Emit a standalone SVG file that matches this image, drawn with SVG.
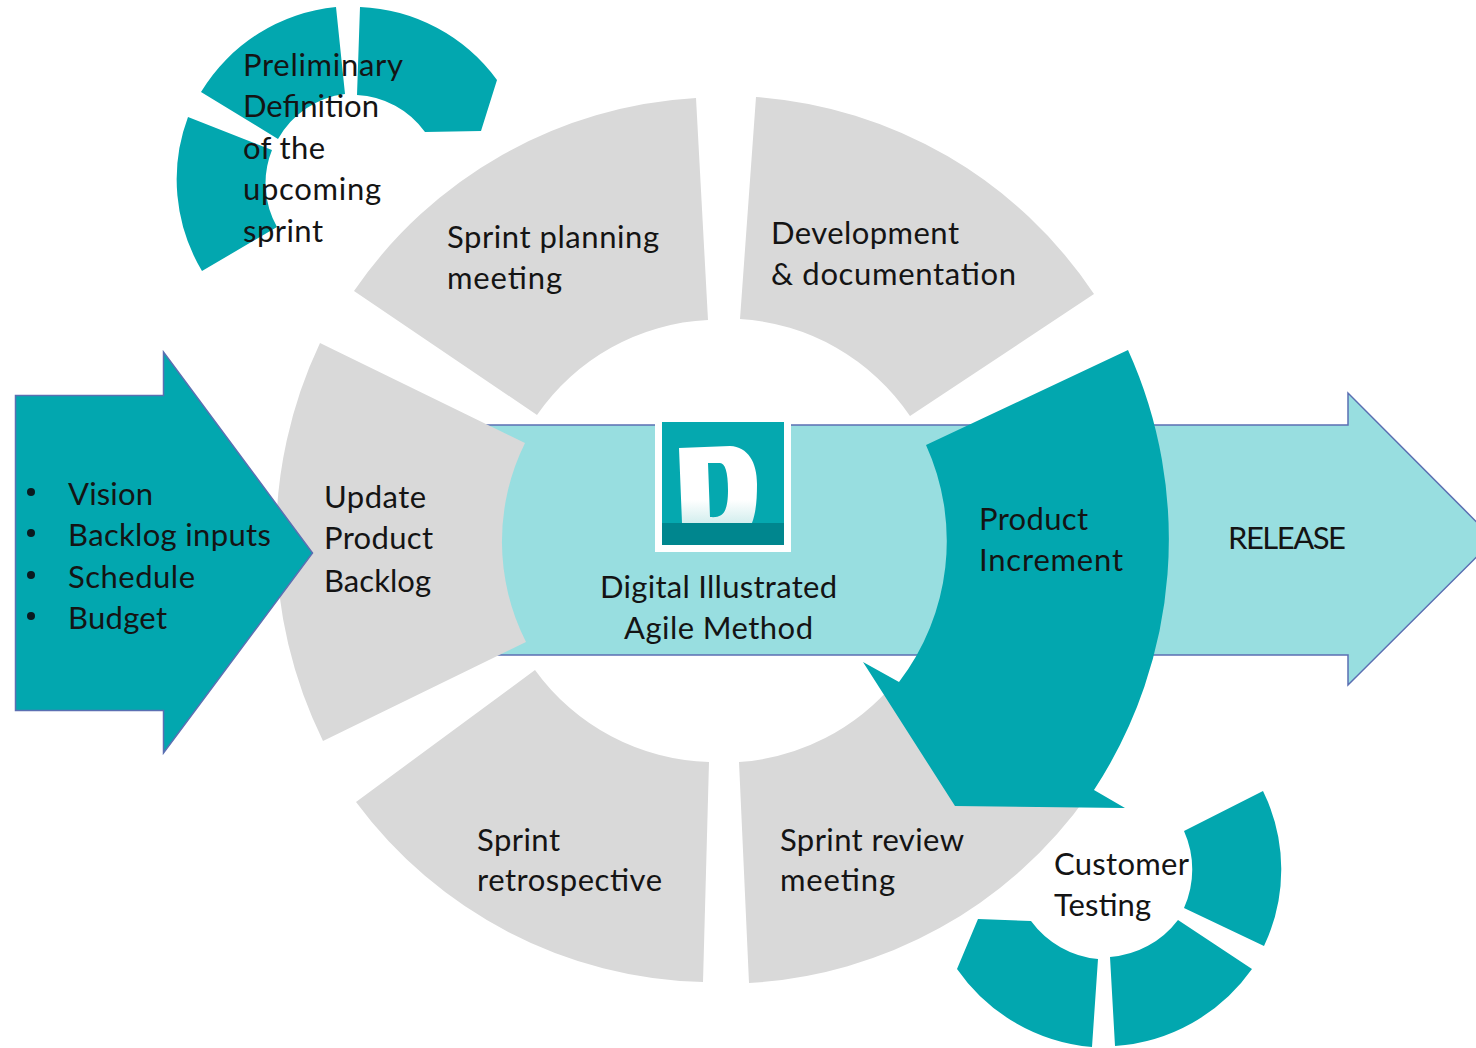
<svg xmlns="http://www.w3.org/2000/svg" width="1476" height="1048" viewBox="0 0 1476 1048">
<defs>
<style>
.g{fill:#d9d9d9}
.t{fill:#02a7af}
.a{stroke:#5b6fb2;stroke-width:1.5}
text{font-family:"Lato","Open Sans","Liberation Sans",sans-serif;font-size:31px;fill:#141414}
</style>
<linearGradient id="dg" x1="0" y1="0" x2="0" y2="1"><stop offset="0.7" stop-color="#fff"/><stop offset="1" stop-color="#d3eeee"/></linearGradient>
</defs>
<rect width="1476" height="1048" fill="#fff"/>
<g id="connectors"></g>
<g id="release">
<path class="a" fill="#98dee0" d="M480 425H1348V393L1494 539.5L1348 685V655H480Z"/>
<text x="1228" y="549" textLength="118">RELEASE</text>
</g>
<g id="sprint-planning">
<path class="g" d="M696 98L708 320A220 220 0 0 0 537 415L354 291A445 445 0 0 1 696 98Z"/>
<text x="447" y="248" textLength="212">Sprint planning</text>
<text x="447" y="289" textLength="115">meeting</text>
</g>
<g id="development">
<path class="g" d="M756 97L740 319A222 222 0 0 1 910 416L1094 294A445 445 0 0 0 756 97Z"/>
<text x="771" y="244" textLength="188">Development</text>
<text x="771" y="285" textLength="245">&amp; documentation</text>
</g>
<g id="update-backlog">
<path class="g" d="M320 343L525 443A222 222 0 0 0 526 642L323 741A458 458 0 0 1 320 343Z"/>
<text x="324" y="508" textLength="102">Update</text>
<text x="324" y="549" textLength="109">Product</text>
<text x="324" y="592" textLength="107">Backlog</text>
</g>
<g id="retrospective">
<path class="g" d="M356 802L535 670A222 222 0 0 0 709 762L703 982A445 445 0 0 1 356 802Z"/>
<text x="477" y="851" textLength="83">Sprint</text>
<text x="477" y="891" textLength="185">retrospective</text>
</g>
<g id="review">
<path class="g" d="M739 762A222 222 0 0 0 895 682L1000 760L1088 795A445 445 0 0 1 749 983Z"/>
<text x="780" y="851" textLength="184">Sprint review</text>
<text x="780" y="891" textLength="115">meeting</text>
</g>
<g id="logo">
<rect x="655" y="423" width="136" height="129" fill="#fff"/>
<rect x="662" y="422" width="122" height="123" fill="#05a8af"/>
<rect x="662" y="523" width="122" height="22" fill="#00868e"/>
<path fill="url(#dg)" fill-rule="evenodd" d="M679 448L730 446C748 447 757 462 757 484C757 500 756 512 752 523H682ZM708 463L710 517C722 518 728 514 728 490C728 472 725 463 720 463Z"/>
<text x="600" y="598" textLength="237">Digital Illustrated</text>
<text x="624" y="639" textLength="189">Agile Method</text>
</g>
<g id="product-increment">
<path class="t" d="M1128 350L926 445A232 232 0 0 1 899 682L863 662L955 806L1125 808L1094 790A458 458 0 0 0 1128 350Z"/>
<text x="979" y="530" textLength="109">Product</text>
<text x="979" y="571" textLength="144">Increment</text>
</g>
<g id="inputs">
<path class="t a" d="M15.5 395.5H163.5V352L312.5 553L163.5 753V710.5H15.5Z"/>
<circle cx="31" cy="492" r="4" fill="#0a1a20"/>
<circle cx="31" cy="533" r="4" fill="#0a1a20"/>
<circle cx="31" cy="575" r="4" fill="#0a1a20"/>
<circle cx="31" cy="616" r="4" fill="#0a1a20"/>
<text x="68" y="505" textLength="85">Vision</text>
<text x="68" y="546" textLength="203">Backlog inputs</text>
<text x="68" y="588" textLength="127">Schedule</text>
<text x="68" y="629" textLength="99">Budget</text>
</g>
<g id="preliminary">
<path class="t" d="M360 7A178 178 0 0 1 497 80L481 131L425 132A89 89 0 0 0 357 95Z"/>
<path class="t" d="M336 7L345 94A89 89 0 0 0 278 139L201 92A178 178 0 0 1 336 7Z"/>
<path class="t" d="M188 117L272 150A89 89 0 0 0 277 227L202 271A178 178 0 0 1 188 117Z"/>
<text x="243" y="76" textLength="160">Preliminary</text>
<text x="243" y="117" textLength="136">Definition</text>
<text x="243" y="159" textLength="82">of the</text>
<text x="243" y="200" textLength="138">upcoming</text>
<text x="243" y="242" textLength="80">sprint</text>
</g>
<g id="customer-testing">
<path class="t" d="M1184 831L1263 791A178 178 0 0 1 1264 946L1184 908A94 94 0 0 0 1184 831Z"/>
<path class="t" d="M1178 920L1252 969A183 183 0 0 1 1115 1046L1110 957A94 94 0 0 0 1178 920Z"/>
<path class="t" d="M1098 959L1092 1047A183 183 0 0 1 957 969L978 919L1031 921A94 94 0 0 0 1098 959Z"/>
<text x="1054" y="875" textLength="135">Customer</text>
<text x="1054" y="916" textLength="97">Testing</text>
</g>
</svg>
